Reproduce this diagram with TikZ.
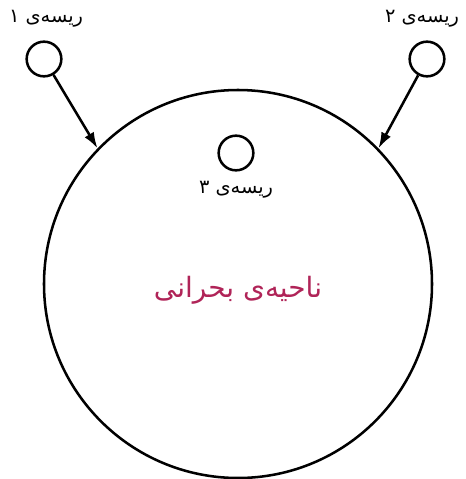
\documentclass[tikz,border=0pt]{standalone}
\usepackage{fontspec}
\usetikzlibrary{arrows.meta}
\newfontfamily\farsifont[Script=Arabic]{DejaVu Sans}
\TeXXeTstate=1
\definecolor{critcol}{RGB}{176,36,88}
\begin{document}
\begin{tikzpicture}[
  x=0.75pt, y=-0.75pt,
  >={Latex[length=12pt,width=8pt]},
  line width=1.9pt,
  thread/.style={draw, circle, minimum size=26pt, inner sep=0pt},
  region/.style={draw, circle, minimum size=291pt, inner sep=0pt},
  lab/.style={draw=none, inner sep=1pt, font=\farsifont\fontsize{14.5}{17}\selectfont}
]
  \useasboundingbox (0,0) rectangle (465,479);

  \node[region] (cs) at (238,284) {};
  \node[draw=none, text=critcol, font=\farsifont\fontsize{21}{25}\selectfont] (cslab) at (238,290) {\beginR ناحیه‌ی بحرانی\endR};

  \node[thread] (t1) at (44,59) {};
  \node[thread] (t2) at (427,59) {};
  \node[thread] (t3) at (236,153) {};

  \node[lab] (l1) at (46,19) {\beginR ریسه‌ی ۱\endR};
  \node[lab] (l2) at (422,19) {\beginR ریسه‌ی ۲\endR};
  \node[lab] (l3) at (236,190) {\beginR ریسه‌ی ۳\endR};

  \draw[->] (t1) -- (cs.136);
  \draw[->] (t2) -- (cs.44);
\end{tikzpicture}
\end{document}
